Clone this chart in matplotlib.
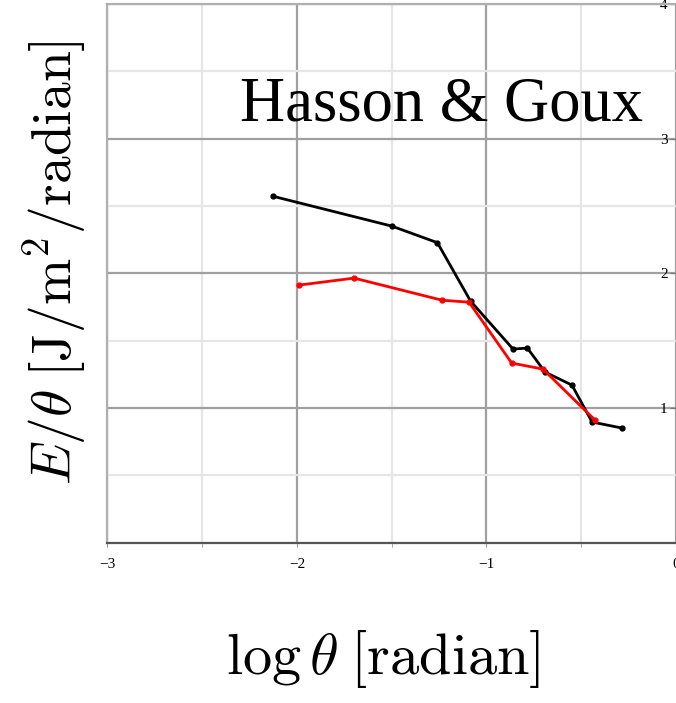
import matplotlib
matplotlib.use("Agg")
import matplotlib.pyplot as plt
from matplotlib.ticker import MultipleLocator

plt.rcParams['mathtext.fontset'] = 'cm'

# black curve
black_x = [-2.127, -1.499, -1.259, -1.084, -0.860, -0.784, -0.691, -0.549, -0.443, -0.285]
black_y = [2.572, 2.350, 2.227, 1.793, 1.437, 1.444, 1.266, 1.169, 0.895, 0.850]

# red curve
red_x = [-1.989, -1.699, -1.235, -1.092, -0.867, -0.702, -0.427]
red_y = [1.912, 1.964, 1.800, 1.785, 1.333, 1.288, 0.909]

x_ticks = [-3, -2, -1, 0]
y_ticks = [1, 2, 3, 4]

fig = plt.figure(figsize=(6.76, 7.03), dpi=100)
ax = fig.add_axes([0.159, 0.2283, 0.841, 0.766])

ax.set_xlim(-3, 0)
ax.set_ylim(0, 4)

# grid: darker at integers, pale at halves
ax.xaxis.set_minor_locator(MultipleLocator(0.5))
ax.yaxis.set_minor_locator(MultipleLocator(0.5))
ax.set_xticks(x_ticks)
ax.set_yticks(y_ticks)
ax.grid(which='major', color='#a0a0a0', lw=1.6)
ax.grid(which='minor', color='#e6e6e6', lw=1.6)
ax.set_axisbelow(True)

ax.plot(black_x, black_y, '-o', color='black', lw=2, ms=3.5)
ax.plot(red_x, red_y, '-o', color='red', lw=2, ms=3.5)

# frame
for s in ['left', 'top']:
    ax.spines[s].set_color('#b0b0b0')
    ax.spines[s].set_linewidth(1.6)
ax.spines['right'].set_visible(False)
ax.spines['bottom'].set_color('#555555')
ax.spines['bottom'].set_linewidth(1.6)

tick_font = dict(family='Liberation Serif', size=11)
ax.set_xticklabels(['\u22123', '\u22122', '\u22121', '0'], fontdict=tick_font)
ax.tick_params(axis='x', which='both', direction='out', length=3, color='#999999', pad=8)

# y labels sit inside, left of the x=0 axis
ax.yaxis.tick_right()
ax.tick_params(axis='y', which='major', direction='in', length=4, color='#777777', pad=-6)
ax.tick_params(axis='y', which='minor', length=0)
ax.set_yticklabels([str(v) for v in y_ticks], fontdict=tick_font)
for lab in ax.get_yticklabels():
    lab.set_ha('right')

ax.text(-0.174, 3.137, 'Hasson & Goux', family='Liberation Serif', size=45,
        ha='right', va='baseline')

fig.text(0.567, 0.062, r'$\log\theta\;[\mathrm{radian}]$', size=42,
         ha='center', va='center')
fig.text(0.082, 0.627, r'$E/\theta\;[\mathrm{J}/\mathrm{m}^2/\mathrm{radian}]$', size=40,
         ha='center', va='center', rotation=90)

fig.savefig('out.png', dpi=100)
